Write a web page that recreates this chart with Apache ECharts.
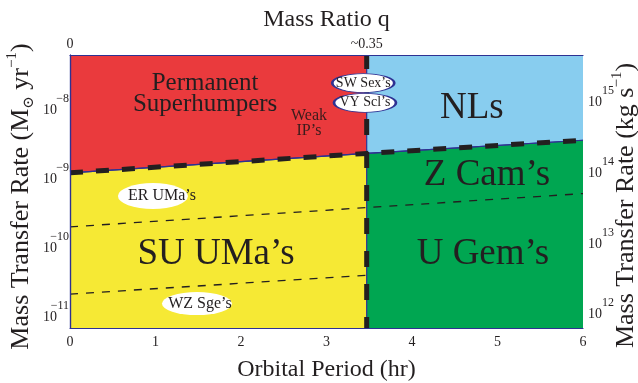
<!DOCTYPE html>
<html><head><meta charset="utf-8">
<script src="https://cdn.jsdelivr.net/npm/echarts@6/dist/echarts.min.js"></script>
<style>html,body{margin:0;padding:0;background:#fff}#c{width:638px;height:383px}</style>
</head><body><div id="c"></div>
<script>
// ---- data ----
const qTickPeriods = [0, 3.47];
const qTickLabels = ['0', '~0.35'];
const mdotTickLogs = [-8, -9, -10, -11];
const mdotTickExps = ['\u22128', '\u22129', '\u221210', '\u221211'];
const kgTickLogs = [15, 14, 13, 12];
const kgTickExps = ['15', '14', '13', '12'];
const dividerPeriod = 3.47;
const critPeriods = [0, 3.47, 6];
const critLogMdot = [-8.98, -8.70, -8.51];
const zcamPeriods = [0, 6];
const zcamLogMdot = [-9.76, -9.28];
const wzPeriods = [0, 3.47];
const wzLogMdot = [-10.73, -10.46];
const ellipseNames = ['ER UMa\u2019s', 'WZ Sge\u2019s', 'SW Sex\u2019s', 'VY Scl\u2019s'];
const ellipsePeriods = [0.97, 1.485, 3.43, 3.45];
const ellipseLogMdot = [-9.316, -10.867, -7.685, -7.970];
const regionNames = ['Permanent\nSuperhumpers', 'Weak\nIP\u2019s', 'NLs', 'Z Cam\u2019s', 'SU UMa\u2019s', 'U Gem\u2019s'];
const regionPeriods = [1.58, 2.795, 4.70, 4.877, 1.708, 4.83];
const regionLogMdot = [-7.844, -8.27, -8.046, -9.013, -10.153, -10.153];

// ---- layout / style ----
const yMin = -11.22, yMax = -7.28, kgMin = 11.74, kgMax = 15.60;
const FONT = 'Liberation Serif';
const INK = '#231F20';
const NAVY = '#2E3192';
const RED = '#EA3A3D', BLUE = '#88CDEF', YELLOW = '#F6E934', GREEN = '#00A651';

const leftCrit = [[critPeriods[0], critLogMdot[0]], [critPeriods[1], critLogMdot[1]]];
const rightCrit = [[critPeriods[1], critLogMdot[1]], [critPeriods[2], critLogMdot[2]]];
function pairs(xs, ys) { return xs.map((x, i) => [x, ys[i]]); }

function area(data, color, origin) {
  return { type: 'line', data: data, symbol: 'none', silent: true, z: 1,
    lineStyle: { color: NAVY, width: 1.2 }, areaStyle: { color: color, opacity: 1, origin: origin } };
}
function dashLine(data, width, dash, offset, z) {
  return { type: 'line', data: data, symbol: 'none', silent: true, z: z,
    lineStyle: { color: INK, width: width, type: dash, dashOffset: offset || 0, cap: 'butt' } };
}

const regionStyle = [
  { fontSize: 25, lineHeight: 21 },
  { fontSize: 16, lineHeight: 15, color: '#3A1C1C' },
  { fontSize: 37 }, { fontSize: 37 }, { fontSize: 37 }, { fontSize: 37 }
];
const ellipseStyle = [
  { size: [70, 26], border: 0, fontSize: 16, offset: [9, 0] },
  { size: [70, 23], border: 0, fontSize: 16, offset: [3, 0] },
  { size: [62, 19], border: 1.5, fontSize: 14, offset: [0, 0] },
  { size: [62, 19], border: 1.5, fontSize: 14, offset: [0, 0] }
];

const chart = echarts.init(document.getElementById('c'), null, { renderer: 'canvas' });
chart.setOption({
  animation: false,
  backgroundColor: '#fff',
  textStyle: { fontFamily: FONT, color: INK },
  grid: { left: 70, right: 55, top: 55, bottom: 55, containLabel: false, outerBoundsMode: 'none' },
  xAxis: [{
    type: 'value', min: 0, max: 6, interval: 1, position: 'bottom', z: 10, nameMoveOverlap: false,
    axisLine: { show: true, lineStyle: { color: NAVY, width: 1.2 } },
    axisTick: { show: false }, splitLine: { show: false },
    axisLabel: { fontFamily: FONT, fontSize: 14, color: INK, margin: 7 },
    name: 'Orbital Period (hr)', nameLocation: 'middle', nameGap: 30,
    nameTextStyle: { fontFamily: FONT, fontSize: 24, color: INK }
  }, {
    type: 'value', min: 0, max: 6, position: 'top', z: 10, nameMoveOverlap: false,
    axisLine: { show: true, lineStyle: { color: NAVY, width: 1.2 } },
    axisTick: { show: false }, splitLine: { show: false },
    axisLabel: { customValues: qTickPeriods, fontFamily: FONT, fontSize: 14, color: INK, margin: 4,
      formatter: v => qTickLabels[qTickPeriods.indexOf(v)] },
    name: 'Mass Ratio q', nameLocation: 'middle', nameGap: 23,
    nameTextStyle: { fontFamily: FONT, fontSize: 24, color: INK }
  }],
  yAxis: [{
    type: 'value', min: yMin, max: yMax, position: 'left', z: 10, nameMoveOverlap: false,
    axisLine: { show: true, lineStyle: { color: NAVY, width: 1.2 } },
    axisTick: { show: false }, splitLine: { show: false },
    axisLabel: { customValues: mdotTickLogs, margin: 1, color: INK,
      formatter: v => '{sup|' + mdotTickExps[mdotTickLogs.indexOf(v)] + '}\n{base|10}',
      rich: {
        sup: { fontFamily: FONT, fontSize: 12, lineHeight: 10, align: 'right', color: INK },
        base: { fontFamily: FONT, fontSize: 14, lineHeight: 13, align: 'right', padding: [0, 12, 0, 0], color: INK }
      } },
    name: '{t|Mass Transfer Rate (M}{sun|\u2299}{t| yr}{sup|\u22121}{t|)}',
    nameLocation: 'middle', nameGap: 33, nameRotate: 90,
    nameTextStyle: { padding: [0, 10, 0, 0], rich: {
      t: { fontFamily: FONT, fontSize: 26, lineHeight: 32, color: INK },
      sun: { fontFamily: 'DejaVu Serif', fontSize: 15, lineHeight: 15, verticalAlign: 'bottom', color: INK },
      sup: { fontFamily: FONT, fontSize: 15, lineHeight: 15, verticalAlign: 'top', color: INK }
    } }
  }, {
    type: 'value', min: kgMin, max: kgMax, position: 'right', z: 10, nameMoveOverlap: false,
    axisLine: { show: true, lineStyle: { color: NAVY, width: 1.2 } },
    axisTick: { show: false }, splitLine: { show: false },
    axisLabel: { customValues: kgTickLogs, margin: 5, color: INK,
      formatter: v => '{sup|' + kgTickExps[kgTickLogs.indexOf(v)] + '}\n{base|10}',
      rich: {
        sup: { fontFamily: FONT, fontSize: 12, lineHeight: 10, align: 'left', padding: [0, 0, 0, 14], color: INK },
        base: { fontFamily: FONT, fontSize: 14, lineHeight: 13, align: 'left', color: INK }
      } },
    name: '{t|Mass Transfer Rate (kg s}{sup|\u22121}{t|)}',
    nameLocation: 'middle', nameGap: 27, nameRotate: 90,
    nameTextStyle: { padding: [0, 28, 0, 0], rich: {
      t: { fontFamily: FONT, fontSize: 26, lineHeight: 32, color: INK },
      sup: { fontFamily: FONT, fontSize: 15, lineHeight: 15, verticalAlign: 'top', color: INK }
    } }
  }],
  series: [
    area(leftCrit, RED, 'end'),
    area(leftCrit, YELLOW, 'start'),
    area(rightCrit, BLUE, 'end'),
    area(rightCrit, GREEN, 'start'),
    { type: 'line', data: [[dividerPeriod, yMin], [dividerPeriod, yMax]], symbol: 'none', silent: true, z: 2,
      lineStyle: { color: NAVY, width: 1.2 } },
    dashLine(pairs(zcamPeriods, zcamLogMdot), 1.3, [8, 8], 0, 3),
    dashLine(pairs(wzPeriods, wzLogMdot), 1.3, [8, 8], 0, 3),
    dashLine(pairs(critPeriods, critLogMdot), 5, [13, 13], 0, 4),
    dashLine([[dividerPeriod, yMin], [dividerPeriod, yMax]], 5, [16, 17], 5, 4),
    { type: 'scatter', z: 6, silent: true, symbol: 'circle',
      data: ellipseNames.map((n, i) => ({
        value: [ellipsePeriods[i], ellipseLogMdot[i]], name: n,
        symbolSize: ellipseStyle[i].size,
        itemStyle: { color: '#fff', borderColor: NAVY, borderWidth: ellipseStyle[i].border, opacity: 1 },
        label: { show: true, position: 'inside', formatter: n, fontFamily: FONT,
          fontSize: ellipseStyle[i].fontSize, color: INK, offset: ellipseStyle[i].offset }
      })) },
    { type: 'scatter', z: 7, silent: true, symbolSize: 0, itemStyle: { opacity: 1 },
      data: regionNames.map((n, i) => ({
        value: [regionPeriods[i], regionLogMdot[i]], name: n,
        itemStyle: { opacity: 1 },
        label: Object.assign({ show: true, position: 'inside', formatter: n, fontFamily: FONT,
          color: INK, opacity: 1, align: 'center' }, regionStyle[i])
      })) }
  ]
});
</script></body></html>
